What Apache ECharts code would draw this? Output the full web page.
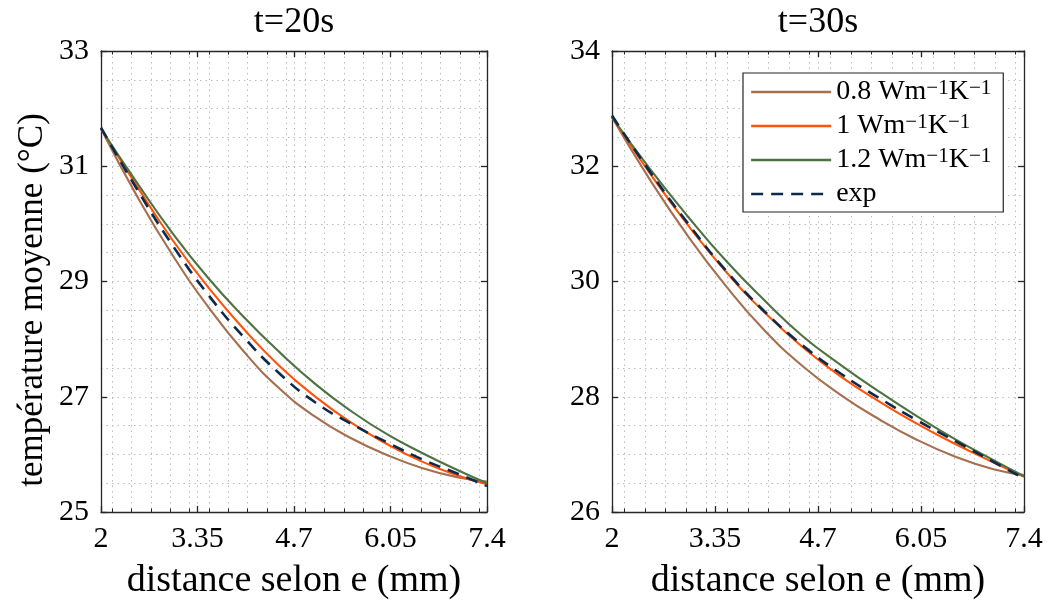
<!DOCTYPE html>
<html><head><meta charset="utf-8">
<script src="https://cdn.jsdelivr.net/npm/echarts@6/dist/echarts.min.js"></script>
<style>html,body{margin:0;padding:0;background:#fff}#c{width:1051px;height:608px}</style>
</head><body><div id="c"></div><script>
const FONT = 'Liberation Serif';
const AX = '#262626';
const GRID = '#bdbdbd';

// x positions (mm)
const xs = [2, 2.5, 3, 3.5, 4, 4.5, 5, 5.5, 6, 6.5, 7, 7.4];
// t = 20 s
const k08_20 = [31.65, 30.49, 29.46, 28.56, 27.78, 27.14, 26.65, 26.28, 25.99, 25.76, 25.60, 25.53];
const k1_20  = [31.65, 30.66, 29.72, 28.90, 28.17, 27.53, 27.00, 26.55, 26.18, 25.87, 25.63, 25.48];
const k12_20 = [31.65, 30.72, 29.84, 29.06, 28.38, 27.77, 27.22, 26.75, 26.35, 26.02, 25.72, 25.50];
const exp_20 = [31.67, 30.61, 29.63, 28.77, 28.03, 27.40, 26.90, 26.53, 26.21, 25.91, 25.66, 25.45];
// t = 30 s
const k08_30 = [32.85, 31.76, 30.78, 29.91, 29.15, 28.53, 28.03, 27.61, 27.25, 26.96, 26.74, 26.64];
const k1_30  = [32.85, 31.87, 30.97, 30.16, 29.46, 28.86, 28.35, 27.92, 27.53, 27.18, 26.86, 26.61];
const k12_30 = [32.85, 31.95, 31.12, 30.35, 29.67, 29.05, 28.55, 28.09, 27.66, 27.26, 26.90, 26.62];
const exp_30 = [32.88, 31.90, 31.00, 30.18, 29.48, 28.89, 28.40, 27.98, 27.59, 27.23, 26.87, 26.58];

// ticks
const xTicks = [2, 3.35, 4.7, 6.05, 7.4];
const xMinor = [2.16, 2.43, 2.70, 2.97, 3.24, 3.51, 3.78, 4.05, 4.32, 4.59, 4.86, 5.13, 5.40, 5.67, 5.94, 6.21, 6.48, 6.75, 7.02, 7.29];
const yTicks20 = [25, 27, 29, 31, 33];
const yMinor20 = [25.5, 26, 26.5, 27.5, 28, 28.5, 29.5, 30, 30.5, 31.5, 32, 32.5];
const yTicks30 = [26, 28, 30, 32, 34];
const yMinor30 = [26.5, 27, 27.5, 28.5, 29, 29.5, 30.5, 31, 31.5, 32.5, 33, 33.5];

const titles = ['t=20s', 't=30s'];
const xName = 'distance selon e (mm)';
const yName = 'température moyenne (°C)';
const seriesNames = ['0.8 Wm-1K-1', '1 Wm-1K-1', '1.2 Wm-1K-1', 'exp'];
const legendRich = ['{t|0.8 Wm}{s|−1}{t|K}{s|−1}', '{t|1 Wm}{s|−1}{t|K}{s|−1}', '{t|1.2 Wm}{s|−1}{t|K}{s|−1}', '{t|exp}'];
const colors = ['#A66F4F', '#FF5308', '#4D7340', '#0E2A4A'];

const grids = [
  {left: 101, top: 51, width: 386, height: 461},
  {left: 612, top: 51, width: 412, height: 461}
];
const yRanges = [[25, 33], [26, 34]];
const yTickSets = [yTicks20, yTicks30];
const yMinorSets = [yMinor20, yMinor30];

const dotted = {show: true, lineStyle: {color: GRID, width: 1, type: [1.5, 4]}};
const hidden = {axisLine: {show: false, onZero: false}, axisTick: {show: false}, axisLabel: {show: false}, splitLine: {show: false}};

const xAxis = [], yAxis = [];
for (let g = 0; g < 2; g++) {
  const base = {type: 'value', gridIndex: g, min: 2, max: 7.4};
  xAxis.push(Object.assign({}, base, hidden, {
    position: 'bottom',
    axisLine: {show: true, onZero: false, lineStyle: {color: AX, width: 1.3}},
    axisTick: {show: true, inside: true, length: 6, customValues: xTicks, lineStyle: {color: AX, width: 1.3}},
    axisLabel: {show: true, customValues: xTicks, margin: 12, color: '#000', fontFamily: FONT, fontSize: 30, formatter: v => String(v)},
    splitLine: dotted,
    name: xName, nameLocation: 'middle', nameGap: 50,
    nameTextStyle: {fontFamily: FONT, fontSize: 38, color: '#000'}
  }));
  xAxis.push(Object.assign({}, base, hidden, {
    position: 'bottom',
    axisTick: {show: true, inside: true, length: 3.5, customValues: xMinor, lineStyle: {color: AX, width: 1}},
    splitLine: dotted
  }));
  xAxis.push(Object.assign({}, base, hidden, {
    position: 'top',
    axisLine: {show: true, onZero: false, lineStyle: {color: AX, width: 1.3}},
    axisTick: {show: true, inside: true, length: 6, customValues: xTicks, lineStyle: {color: AX, width: 1.3}}
  }));
  xAxis.push(Object.assign({}, base, hidden, {
    position: 'top',
    axisTick: {show: true, inside: true, length: 3.5, customValues: xMinor, lineStyle: {color: AX, width: 1}}
  }));

  const yb = {type: 'value', gridIndex: g, min: yRanges[g][0], max: yRanges[g][1]};
  yAxis.push(Object.assign({}, yb, hidden, {
    position: 'left',
    axisLine: {show: true, onZero: false, lineStyle: {color: AX, width: 1.3}},
    axisTick: {show: true, inside: true, length: 6, customValues: yTickSets[g], lineStyle: {color: AX, width: 1.3}},
    axisLabel: {show: true, customValues: yTickSets[g], margin: 12, color: '#000', fontFamily: FONT, fontSize: 30},
    splitLine: dotted
  }));
  yAxis.push(Object.assign({}, yb, hidden, {
    position: 'left',
    axisTick: {show: false, customValues: yMinorSets[g]},
    splitLine: dotted
  }));
  yAxis.push(Object.assign({}, yb, hidden, {
    position: 'right',
    axisLine: {show: true, onZero: false, lineStyle: {color: AX, width: 1.3}},
    axisTick: {show: true, inside: true, length: 6, customValues: yTickSets[g], lineStyle: {color: AX, width: 1.3}}
  }));
}

const dataSets = [[k08_20, k1_20, k12_20, exp_20], [k08_30, k1_30, k12_30, exp_30]];
const series = [];
for (let g = 0; g < 2; g++) {
  for (let i = 0; i < 4; i++) {
    series.push({
      type: 'line', name: seriesNames[i],
      xAxisIndex: g * 4, yAxisIndex: g * 3,
      data: xs.map((x, j) => [x, dataSets[g][i][j]]),
      smooth: 0.5, symbol: 'none', silent: true, animation: false,
      lineStyle: {color: colors[i], width: i === 3 ? 2.6 : 2.1, type: i === 3 ? [12, 8] : 'solid'},
      itemStyle: {color: colors[i]},
      z: 3 + i
    });
  }
}

const chart = echarts.init(document.getElementById('c'), null, {renderer: 'canvas'});
chart.setOption({
  backgroundColor: '#fff',
  animation: false,
  grid: grids,
  xAxis: xAxis,
  yAxis: yAxis,
  series: series,
  legend: {
    data: seriesNames,
    orient: 'vertical',
    left: 743, top: 73,
    padding: [5, 12, 4, 7],
    itemWidth: 80, itemHeight: 14, itemGap: 6,
    backgroundColor: '#fff',
    borderColor: AX, borderWidth: 1.2,
    itemStyle: {color: 'rgba(0,0,0,0)', borderWidth: 0, opacity: 0},
    lineStyle: {width: 2.3},
    formatter: name => legendRich[seriesNames.indexOf(name)],
    textStyle: {
      color: '#000', fontFamily: FONT, fontSize: 28,
      rich: {
        t: {fontFamily: FONT, fontSize: 28, color: '#000', lineHeight: 28},
        s: {fontFamily: FONT, fontSize: 21, color: '#000', verticalAlign: 'top', lineHeight: 20}
      }
    },
    selectedMode: false
  },
  graphic: [
    {type: 'text', x: 294, y: 23, style: {text: titles[0], fontFamily: FONT, fontSize: 36, fill: '#000', align: 'center', verticalAlign: 'middle'}},
    {type: 'text', x: 818, y: 23, style: {text: titles[1], fontFamily: FONT, fontSize: 36, fill: '#000', align: 'center', verticalAlign: 'middle'}},
    {type: 'text', x: 33, y: 300, rotation: Math.PI / 2, style: {text: yName, fontFamily: FONT, fontSize: 35, fill: '#000', align: 'center', verticalAlign: 'middle'}}
  ]
});
</script></body></html>
